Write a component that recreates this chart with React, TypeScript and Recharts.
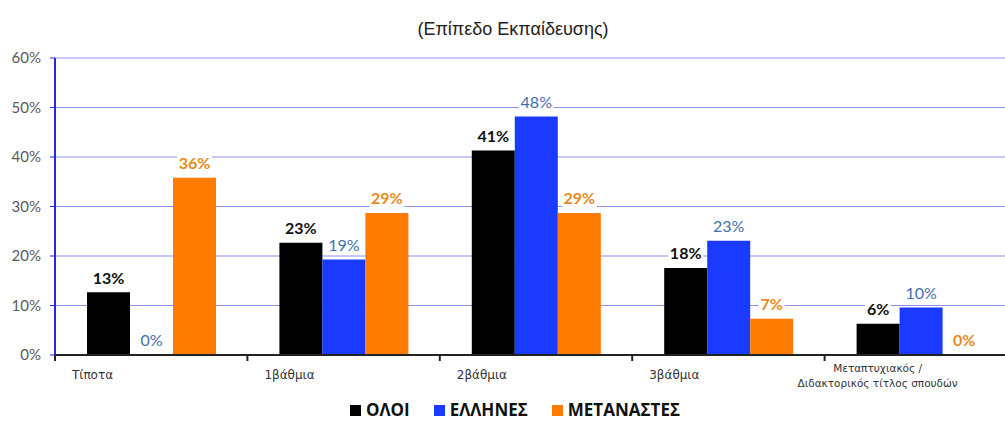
import React from "react";
import {
  BarChart,
  Bar,
  XAxis,
  YAxis,
  CartesianGrid,
  LabelList,
} from "recharts";

// Επίπεδο εκπαίδευσης (%)
const categories = [
  "Τίποτα",
  "1βάθμια",
  "2βάθμια",
  "3βάθμια",
  "Μεταπτυχιακός /|Διδακτορικός τίτλος σπουδών",
];
const oloi = [12.7, 22.7, 41.3, 17.6, 6.3];
const ellines = [0, 19.3, 48.2, 23.1, 9.6];
const metanastes = [35.8, 28.7, 28.7, 7.3, 0];
const yTicks = [0, 10, 20, 30, 40, 50, 60];

const CHART_W = 1017;
const CHART_H = 423;
const AXIS_W = 55;
const BAND = (CHART_W - AXIS_W) / categories.length;

const data = categories.map((name, i) => ({
  name,
  oloi: oloi[i],
  ellines: ellines[i],
  metanastes: metanastes[i],
}));

const labelFont = "Lato, 'Open Sans', sans-serif";

function makeLabel(color: string, bold: boolean) {
  return (props: any) => {
    const { x, y, width, height, value } = props;
    const txt = `${Math.round(Number(value))}%`;
    const cx = x + width / 2;
    const top = height < 0 ? y + height : y;
    const cy = top - 15;
    const w = txt.length * 9 + 8;
    return (
      <g>
        <rect x={cx - w / 2} y={cy - 9} width={w} height={18} fill="#fff" />
        <text
          x={cx}
          y={cy}
          textAnchor="middle"
          dominantBaseline="central"
          fontFamily={labelFont}
          fontSize={16}
          fontWeight={bold ? 700 : 400}
          fill={color}
        >
          {txt}
        </text>
      </g>
    );
  };
}

function XTick(props: any) {
  const { x, y, payload } = props;
  const left = x - BAND / 2;
  const lines = String(payload.value).split("|");
  return (
    <g>
      <line x1={left} y1={y} x2={left} y2={y + 6} stroke="#222" strokeWidth={2} />
      {lines.length === 1 ? (
        <text
          x={left + 17}
          y={y + 20}
          textAnchor="start"
          dominantBaseline="central"
          fontFamily="'DejaVu Sans', sans-serif"
          fontSize={12}
          fill="#333"
        >
          {lines[0]}
        </text>
      ) : (
        lines.map((l, i) => (
          <text
            key={i}
            x={left + 53}
            y={y + 13 + i * 15}
            textAnchor="middle"
            dominantBaseline="central"
            fontFamily="'DejaVu Sans', sans-serif"
            fontSize={10.5}
            fill="#333"
          >
            {l}
          </text>
        ))
      )}
    </g>
  );
}

const legendItems = [
  { name: "ΟΛΟΙ", color: "#000000" },
  { name: "ΕΛΛΗΝΕΣ", color: "#1a3bff" },
  { name: "ΜΕΤΑΝΑΣΤΕΣ", color: "#ff7c00" },
];

export default function App() {
  return (
    <div
      style={{
        position: "fixed",
        top: 0,
        left: 0,
        width: 1005,
        height: 423,
        overflow: "hidden",
        background: "#fff",
      }}
    >
      <div
        style={{
          position: "absolute",
          top: 19,
          left: 0,
          width: 1026,
          textAlign: "center",
          fontFamily: "'Liberation Sans', Arial, sans-serif",
          fontSize: 18,
          color: "#222",
        }}
      >
        (Επίπεδο Εκπαίδευσης)
      </div>
      <div style={{ position: "absolute", top: 0, left: 0 }}>
        <BarChart
          width={CHART_W}
          height={CHART_H}
          data={data}
          margin={{ top: 58, right: 0, left: 0, bottom: 0 }}
          barGap={0}
          barCategoryGap={32}
        >
          <CartesianGrid vertical={false} stroke="#8f8fee" strokeWidth={1} />
          <XAxis
            dataKey="name"
            height={68}
            interval={0}
            tickLine={false}
            tickSize={0}
            tickMargin={0}
            axisLine={{ stroke: "#222", strokeWidth: 2 }}
            tick={<XTick />}
          />
          <YAxis
            width={AXIS_W}
            domain={[0, 60]}
            ticks={yTicks}
            tickFormatter={(v) => `${v}%`}
            axisLine={{ stroke: "#1c2fe0", strokeWidth: 2 }}
            tickLine={{ stroke: "#1c2fe0" }}
            tickSize={5}
            tickMargin={9}
            tick={{ fill: "#5a5a5a", fontSize: 15, fontFamily: labelFont }}
          />
          <Bar dataKey="oloi" fill="#000000" minPointSize={0.01} isAnimationActive={false}>
            <LabelList dataKey="oloi" content={makeLabel("#111", true)} />
          </Bar>
          <Bar dataKey="ellines" fill="#1a3bff" minPointSize={0.01} isAnimationActive={false}>
            <LabelList dataKey="ellines" content={makeLabel("#3f6fae", false)} />
          </Bar>
          <Bar dataKey="metanastes" fill="#ff7c00" minPointSize={0.01} isAnimationActive={false}>
            <LabelList dataKey="metanastes" content={makeLabel("#e88a1c", true)} />
          </Bar>
        </BarChart>
      </div>
      <div
        style={{
          position: "absolute",
          top: 399,
          left: 350,
          display: "flex",
          alignItems: "center",
          gap: 24,
          fontFamily: "'Open Sans', sans-serif",
          fontWeight: 700,
          fontSize: 17,
          lineHeight: "22px",
          color: "#111",
        }}
      >
        {legendItems.map((it) => (
          <div key={it.name} style={{ display: "flex", alignItems: "center", gap: 5 }}>
            <span style={{ width: 11, height: 11, background: it.color, display: "inline-block" }} />
            <span>{it.name}</span>
          </div>
        ))}
      </div>
    </div>
  );
}
